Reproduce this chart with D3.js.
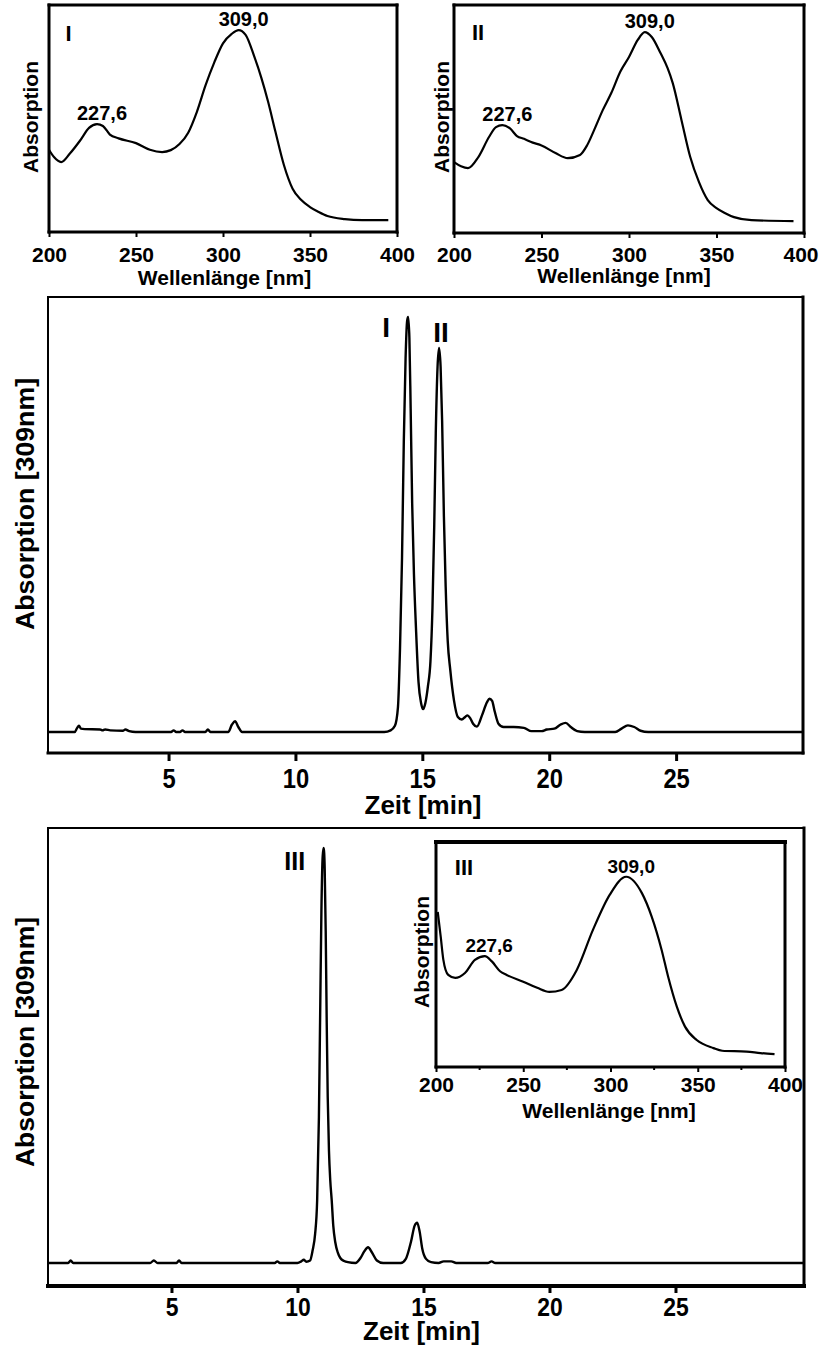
<!DOCTYPE html>
<html>
<head>
<meta charset="utf-8">
<script src="https://cdn.jsdelivr.net/npm/d3@7"></script>
<style>
body { margin: 0; background: #fff; }
text { font-family: "Liberation Sans", Arial, sans-serif; font-weight: bold; fill: #000; }
</style>
</head>
<body>
<div class="container"></div>
<script>
// ---- data ----
var wlTicks = [200, 250, 300, 350, 400];
var wlMinor = [225, 275, 325, 375];
var timeTicks = [5, 10, 15, 20, 25];
var peakNm = [227.6, 309.0];
var peakText = ['227,6', '309,0'];

// UV spectrum of peak I
var specI_nm  = [200, 203, 207, 212, 218, 223, 227.6, 231, 235, 240,
                 250, 258, 265, 270, 275, 280, 285, 290, 295, 300,
                 305, 309, 313, 318, 322, 326, 330, 335, 340, 345,
                 350, 355, 360, 370, 380, 395];
var specI_abs = [0.37, 0.33, 0.305, 0.35, 0.42, 0.485, 0.505, 0.495, 0.45, 0.43,
                 0.405, 0.37, 0.358, 0.368, 0.40, 0.46, 0.57, 0.71, 0.83, 0.93,
                 0.98, 1.0, 0.975, 0.86, 0.75, 0.62, 0.47, 0.29, 0.165, 0.105,
                 0.068, 0.042, 0.021, 0.005, 0, 0];

// UV spectrum of peak II
var specII_nm  = [200, 204, 208, 214, 220, 224, 227.6, 232, 236, 240,
                  245, 250, 258, 265, 272, 276, 280, 285, 290, 295,
                  300, 305, 309, 313, 318, 322, 325, 330, 335, 340,
                  345, 350, 355, 360, 370, 394];
var specII_abs = [0.312, 0.29, 0.28, 0.34, 0.445, 0.497, 0.508, 0.49, 0.45, 0.435,
                  0.415, 0.40, 0.36, 0.333, 0.35, 0.40, 0.48, 0.587, 0.68, 0.79,
                  0.868, 0.958, 1.0, 0.974, 0.889, 0.81, 0.73, 0.534, 0.339, 0.206,
                  0.111, 0.069, 0.042, 0.021, 0.005, 0];

// UV spectrum of peak III (inset)
var specIII_nm  = [201, 202.7, 204.2, 207, 211, 216.6, 222.3, 228, 232, 236.7,
                   240.5, 250, 258, 265, 272, 280.6, 290, 299.7, 309, 318,
                   323.6, 329.3, 333, 338, 342.7, 349.4, 359, 364, 378, 386,
                   394];
var specIII_abs = [0.8, 0.66, 0.53, 0.443, 0.426, 0.454, 0.528, 0.55, 0.52, 0.464,
                   0.443, 0.405, 0.37, 0.347, 0.358, 0.47, 0.70, 0.9, 1.0, 0.907,
                   0.774, 0.585, 0.434, 0.263, 0.15, 0.074, 0.028, 0.013, 0.008, 0,
                   -0.006];

// chromatogram with peaks I and II
var chromA_t   = [0.25, 1.3, 1.4, 1.47, 1.55, 1.7, 2.3, 2.4, 2.5, 2.7,
                  3.2, 3.3, 3.45, 3.7, 5.1, 5.2, 5.3, 5.45, 5.55, 5.65,
                  6.45, 6.55, 6.65, 7.35, 7.5, 7.62, 7.75, 7.9, 13.5, 13.75,
                  13.92, 14.04, 14.12, 14.2, 14.27, 14.34, 14.4, 14.44, 14.49, 14.54,
                  14.6, 14.67, 14.75, 14.85, 14.95, 15.03, 15.12, 15.22, 15.32, 15.4,
                  15.47, 15.53, 15.6, 15.66, 15.72, 15.78, 15.85, 15.92, 16.0, 16.1,
                  16.25, 16.4, 16.55, 16.7, 16.78, 16.88, 17.0, 17.15, 17.35, 17.55,
                  17.65, 17.75, 17.85, 18.0, 18.2, 18.6, 19.0, 19.3, 19.7, 19.9,
                  20.2, 20.45, 20.65, 20.85, 21.1, 21.4, 22.6, 22.85, 23.1, 23.35,
                  23.6, 23.9, 30];
var chromA_abs = [0, 0, 0.01, 0.015, 0.008, 0.007, 0.006, 0.004, 0.006, 0.004,
                  0.003, 0.006, 0.002, 0, 0, 0.004, 0, 0, 0.004, 0,
                  0, 0.006, 0, 0, 0.018, 0.026, 0.012, 0, 0, 0.004,
                  0.015, 0.06, 0.2, 0.42, 0.7, 0.9, 0.99, 1.0, 0.95, 0.78,
                  0.55, 0.38, 0.25, 0.12, 0.07, 0.055, 0.07, 0.11, 0.17, 0.3,
                  0.5, 0.72, 0.88, 0.925, 0.88, 0.75, 0.52, 0.35, 0.22, 0.15,
                  0.075, 0.036, 0.03, 0.037, 0.04, 0.034, 0.02, 0.013, 0.04, 0.072,
                  0.08, 0.075, 0.05, 0.02, 0.012, 0.012, 0.01, 0.002, 0.002, 0.006,
                  0.008, 0.018, 0.022, 0.012, 0.002, 0, 0, 0.008, 0.016, 0.012,
                  0.003, 0, 0];
var chromA_names = ['I', 'II'];
var chromA_peaks = [14.44, 15.66];

// chromatogram with peak III
var chromB_t   = [0.1, 0.9, 1.0, 1.1, 4.15, 4.3, 4.45, 5.2, 5.3, 5.4,
                  9.1, 9.2, 9.3, 10.0, 10.15, 10.25, 10.35, 10.5, 10.6, 10.7,
                  10.78, 10.85, 10.9, 10.95, 11.0, 11.04, 11.08, 11.12, 11.16, 11.2,
                  11.25, 11.3, 11.36, 11.42, 11.5, 11.6, 11.7, 11.85, 12.0, 12.3,
                  12.5, 12.65, 12.8, 12.95, 13.15, 13.4, 14.1, 14.3, 14.5, 14.65,
                  14.75, 14.85, 14.95, 15.1, 15.3, 15.6, 15.8, 16.1, 16.3, 17.55,
                  17.7, 17.85, 30.1];
var chromB_abs = [0, 0, 0.006, 0, 0, 0.006, 0, 0, 0.006, 0,
                  0, 0.004, 0, 0, 0.004, 0.008, 0.003, 0.006, 0.03, 0.07,
                  0.15, 0.35, 0.6, 0.85, 0.98, 1.0, 0.95, 0.8, 0.58, 0.4,
                  0.27, 0.2, 0.15, 0.09, 0.05, 0.025, 0.012, 0.005, 0.002, 0,
                  0.012, 0.028, 0.038, 0.026, 0.006, 0, 0, 0.01, 0.05, 0.09,
                  0.097, 0.075, 0.035, 0.01, 0.002, 0, 0.004, 0.004, 0, 0,
                  0.004, 0, 0];
var chromB_names = ['III'];
var chromB_peaks = [11.04];

// ---- layout ----
var svg = d3.select('.container').append('svg')
	.attr('width', 820)
	.attr('height', 1346);

svg.append('rect').attr('width', 820).attr('height', 1346).attr('fill', '#fff');

// linear read-out of a series at position v
var valueAt = function(xs, ys, v){
	var i = d3.bisectLeft(xs, v);
	if (i <= 0) return ys[0];
	if (i >= xs.length) return ys[ys.length - 1];
	var f = (v - xs[i - 1]) / (xs[i] - xs[i - 1]);
	return ys[i - 1] + f * (ys[i] - ys[i - 1]);
}

var drawFrame = function(g, L){
	// widths: top, right, bottom, left
	var w = L.frame;
	var segs = [
		[L.left, L.top, L.right, L.top, w[0]],
		[L.right, L.top, L.right, L.bottom, w[1]],
		[L.left, L.bottom, L.right, L.bottom, w[2]],
		[L.left, L.top, L.left, L.bottom, w[3]]
	];
	g.selectAll('line.frame').data(segs).enter()
		.append('line')
		.attr('class', 'frame')
		.attr('x1', function(d){ return d[0]; })
		.attr('y1', function(d){ return d[1]; })
		.attr('x2', function(d){ return d[2]; })
		.attr('y2', function(d){ return d[3]; })
		.attr('stroke', '#000')
		.attr('stroke-linecap', 'square')
		.attr('stroke-width', function(d){ return d[4]; });
}

var bottomAxis = function(g, L, x, ticks){
	var ax = d3.axisBottom(x)
		.tickValues(ticks)
		.tickSize(L.tickLen)
		.tickSizeOuter(0)
		.tickFormat(d3.format('d'));
	var ag = g.append('g')
		.attr('transform', 'translate(0,' + L.bottom + ')')
		.call(ax)
		.attr('font-family', null)
		.attr('font-size', L.tickFont);
	ag.select('.domain').remove();
	ag.selectAll('.tick line').attr('stroke-width', L.tickW);
	ag.selectAll('.tick text')
		.attr('y', L.tickBase)
		.attr('dy', 0)
		.attr('transform', 'scale(' + L.tickScale + ',1)');
	// keep the last label inside the page edge
	if (L.lastEnd) {
		ag.selectAll('.tick text')
			.filter(function(d){ return d === ticks[ticks.length - 1]; })
			.attr('text-anchor', 'end')
			.attr('x', L.lastEnd);
	}
	return ag;
}

var vLabel = function(g, txt, p){
	var t = g.append('text')
		.attr('transform', 'translate(' + p.x + ',' + p.y + ') rotate(-90)')
		.attr('text-anchor', 'middle')
		.attr('font-size', p.size)
		.text(txt);
	if (p.len) t.attr('textLength', p.len).attr('lengthAdjust', 'spacingAndGlyphs');
}

var hLabel = function(g, txt, p){
	var t = g.append('text')
		.attr('x', p.x)
		.attr('y', p.y)
		.attr('text-anchor', 'middle')
		.attr('font-size', p.size)
		.text(txt);
	if (p.len) t.attr('textLength', p.len).attr('lengthAdjust', 'spacingAndGlyphs');
}

var drawSpectrum = function(L, nm, abs, tag){
	var g = svg.append('g');
	var x = d3.scaleLinear().domain([200, 400]).range([L.left, L.right]);
	var y = d3.scaleLinear().domain(L.yDomain).range([L.bottom, L.top]);

	if (L.bg) {
		g.append('rect')
			.attr('x', L.left).attr('y', L.top)
			.attr('width', L.right - L.left).attr('height', L.bottom - L.top)
			.attr('fill', '#fff');
	}

	var line = d3.line()
		.x(function(d){ return x(d[0]); })
		.y(function(d){ return y(d[1]); })
		.curve(d3.curveMonotoneX);

	g.append('path')
		.datum(d3.zip(nm, abs))
		.attr('d', line)
		.attr('fill', 'none')
		.attr('stroke', '#000')
		.attr('stroke-width', 2.2)
		.attr('stroke-linejoin', 'round');

	if (L.minor) {
		g.selectAll('line.minor').data(wlMinor).enter()
			.append('line')
			.attr('class', 'minor')
			.attr('x1', function(d){ return x(d); })
			.attr('x2', function(d){ return x(d); })
			.attr('y1', L.bottom)
			.attr('y2', L.bottom + 3)
			.attr('stroke', '#000')
			.attr('stroke-width', 2);
	}

	bottomAxis(g, L, x, wlTicks);
	drawFrame(g, L);

	// peak maxima annotations
	peakNm.forEach(function(p, i){
		g.append('text')
			.attr('x', x(p) + 5)
			.attr('y', y(valueAt(nm, abs, p)) - 4)
			.attr('text-anchor', 'middle')
			.attr('font-size', L.peakFont)
			.text(peakText[i]);
	});

	hLabel(g, tag, L.tag);
	hLabel(g, 'Wellenlänge [nm]', L.title);
	vLabel(g, 'Absorption', L.ylab);
}

var drawChrom = function(L, t, abs, names, peaks){
	var g = svg.append('g');
	var x = d3.scaleLinear().domain(L.xDomain).range([L.left, L.right]);
	var y = d3.scaleLinear().domain(L.yDomain).range([L.bottom, L.top]);

	var line = d3.line()
		.x(function(d){ return x(d[0]); })
		.y(function(d){ return y(d[1]); })
		.curve(d3.curveMonotoneX);

	g.append('path')
		.datum(d3.zip(t, abs))
		.attr('d', line)
		.attr('fill', 'none')
		.attr('stroke', '#000')
		.attr('stroke-width', 2.4)
		.attr('stroke-linejoin', 'round');

	bottomAxis(g, L, x, timeTicks);
	drawFrame(g, L);

	names.forEach(function(n, i){
		g.append('text')
			.attr('x', x(peaks[i]) + L.nameOff[i][0])
			.attr('y', y(valueAt(t, abs, peaks[i])) + L.nameOff[i][1])
			.attr('text-anchor', 'middle')
			.attr('font-size', L.nameFont)
			.text(n);
	});

	hLabel(g, 'Zeit [min]', L.title);
	vLabel(g, 'Absorption [309nm]', L.ylab);
}

var layoutI = {
	left: 49, right: 397, top: 5, bottom: 232, yDomain: [-0.063, 1.132],
	frame: [3, 3, 3, 3], tickLen: 5, tickW: 2, tickFont: 21, tickBase: 30, tickScale: 1,
	peakFont: 20,
	tag: {x: 68.5, y: 41, size: 22},
	title: {x: 224.5, y: 285, size: 21},
	ylab: {x: 38, y: 117, size: 21}
};
var layoutII = {
	left: 454, right: 804, top: 5, bottom: 233, yDomain: [-0.063, 1.143],
	frame: [3, 3, 3, 3], tickLen: 5, tickW: 2, tickFont: 21, tickBase: 29, tickScale: 1,
	lastEnd: 14,
	peakFont: 20,
	tag: {x: 478, y: 40, size: 22},
	title: {x: 624, y: 283, size: 21},
	ylab: {x: 449, y: 117, size: 21}
};
var layoutA = {
	left: 48, right: 803, top: 297, bottom: 753, xDomain: [0.25, 30], yDomain: [-0.0506, 1.048],
	frame: [2, 3, 3, 2], tickLen: 8, tickW: 3, tickFont: 27, tickBase: 35, tickScale: 0.88,
	nameFont: 28, nameOff: [[-22, 20], [2, -6]],
	title: {x: 423, y: 814, size: 25, len: 117},
	ylab: {x: 34, y: 504, size: 25, len: 252}
};
var layoutB = {
	left: 48, right: 804, top: 828, bottom: 1286, xDomain: [0.1, 30.1], yDomain: [-0.0554, 1.048],
	frame: [2, 3, 4, 2], tickLen: 7, tickW: 3, tickFont: 26, tickBase: 30, tickScale: 0.88,
	nameFont: 25, nameOff: [[-29, 22]],
	title: {x: 421.5, y: 1340, size: 25, len: 117},
	ylab: {x: 34, y: 1042, size: 25, len: 250}
};
var layoutIII = {
	left: 436, right: 785, top: 842, bottom: 1067, yDomain: [-0.079, 1.197], bg: true, minor: true,
	frame: [4, 3, 3, 3], tickLen: 5, tickW: 2, tickFont: 21, tickBase: 25, tickScale: 1,
	peakFont: 19,
	tag: {x: 464, y: 875, size: 22},
	title: {x: 609, y: 1118, size: 21},
	ylab: {x: 429, y: 952, size: 21}
};

drawSpectrum(layoutI, specI_nm, specI_abs, 'I');
drawSpectrum(layoutII, specII_nm, specII_abs, 'II');
drawChrom(layoutA, chromA_t, chromA_abs, chromA_names, chromA_peaks);
drawChrom(layoutB, chromB_t, chromB_abs, chromB_names, chromB_peaks);
drawSpectrum(layoutIII, specIII_nm, specIII_abs, 'III');
</script>
</body>
</html>
